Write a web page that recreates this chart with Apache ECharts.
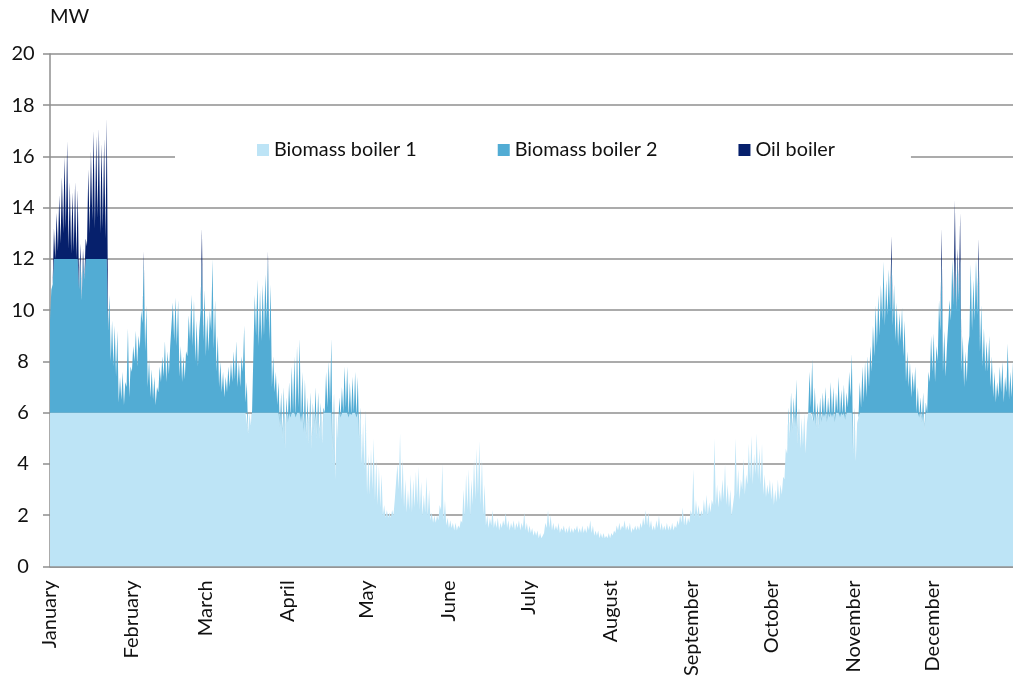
<!DOCTYPE html>
<html lang="en">
<head>
    <meta charset="UTF-8">
    <title>Heat production</title>
    <script type="text/javascript" src="https://cdn.jsdelivr.net/npm/echarts@6/dist/echarts.min.js"></script>
    <style>
        body {
            margin: 0;
            background: #fff;
        }
        #main {
            width: 1013px;
            height: 679px;
        }
    </style>
</head>
<body>
<div id="main"></div>
<script>

    let months = ['January', 'February', 'March', 'April', 'May', 'June',
        'July', 'August', 'September', 'October', 'November', 'December'];
    let monthDays = [31, 28, 31, 30, 31, 30, 31, 31, 30, 31, 30, 31];

    // daily peak of total heat demand, MW (one line per month)
    let demandPeak = [
        10.8,13.2,13.8,14.5,15.2,16.0,16.6,15.0,14.6,15.0, 14.7,12.6,12.4,12.8,15.5,16.2,17.0,16.8,17.1,16.5, 16.7,17.5,10.6,9.6,9.4,9.2,7.4,7.6,7.2,9.3, 7.8,
        8.6,9.2,9.0,10.0,12.3,10.2,8.1,7.7,7.4,7.0, 7.8,8.2,8.8,8.4,8.6,10.3,10.5,10.4,8.6,8.2, 8.4,9.8,10.6,10.4,9.6,9.2,13.2,10.8,
        9.8,10.0,12.0,10.4,9.0,8.0,7.6,7.4,7.8,8.0, 8.4,8.8,8.0,8.2,9.4,7.2,6.0,6.1,10.6,11.2, 10.8,11.0,11.4,12.3,11.0,8.2,7.6,7.2,6.8,7.0, 6.6,
        7.2,7.8,8.2,8.6,8.9,7.6,7.3,6.6,6.8,6.4, 7.0,6.8,6.4,6.2,7.6,8.0,8.9,6.8,6.0,6.6, 7.0,7.8,7.8,7.2,7.4,7.6,7.4,6.2,5.6,6.1,
        4.4,4.6,5.0,4.2,3.9,3.6,2.4,2.2,2.1,2.2, 2.6,4.0,5.2,4.2,3.4,3.0,3.6,3.4,3.7,3.9, 3.3,2.8,3.5,3.0,2.1,2.0,2.0,2.4,4.0,2.6, 1.9,
        1.8,1.7,1.7,1.6,1.8,3.0,3.6,3.8,3.4,4.2, 4.6,4.9,4.2,3.2,2.0,1.9,2.2,1.8,1.9,1.7, 1.8,2.1,1.8,1.7,1.8,1.7,1.8,1.7,2.1,1.7,
        1.6,1.5,1.4,1.4,1.3,1.2,1.7,2.2,2.0,1.7, 1.6,1.7,1.5,1.6,1.5,1.6,1.5,1.5,1.6,1.5, 1.6,1.5,1.6,1.8,1.6,1.4,1.4,1.3,1.3,1.2, 1.3,
        1.3,1.4,1.6,1.7,1.6,1.8,1.6,1.7,1.5,1.6, 1.6,1.7,1.9,2.2,2.1,1.8,1.6,1.8,2.0,1.7, 1.6,1.7,1.6,1.7,1.6,1.8,2.0,2.3,2.0,1.9, 2.2,
        3.8,2.6,2.4,2.2,2.6,2.8,2.5,2.6,5.0,3.2, 3.0,3.4,4.0,3.2,3.0,2.4,5.0,3.8,3.4,4.2, 3.6,4.8,5.1,4.4,5.2,4.6,4.8,3.6,3.2,3.4,
        3.3,3.0,3.4,3.2,3.5,4.6,6.2,6.8,6.6,7.3, 6.2,5.8,6.0,5.6,7.6,8.1,7.0,6.4,6.6,6.8, 7.0,6.6,7.2,7.0,6.8,7.4,6.9,7.1,6.8,7.6, 8.3,
        6.2,5.6,7.2,7.8,8.0,8.2,8.6,9.4,10.2,10.6, 11.0,11.9,11.2,11.6,12.9,11.0,10.3,9.9,10.1,9.6, 8.4,8.0,7.6,7.8,7.0,6.6,6.8,6.4,7.6,9.0,
        9.1,8.6,10.4,13.2,9.2,8.6,10.4,12.0,14.3,12.4, 13.8,9.0,8.4,8.6,11.8,11.2,12.0,12.8,10.2,9.3, 8.8,9.0,8.2,7.6,7.2,7.8,8.0,7.4,8.7,7.6, 8.0
    ];

    // daily low of total heat demand, MW
    let demandLow = [
        9.6,11.0,12.0,12.3,12.6,13.0,13.2,12.4,12.2,12.3, 12.0,10.8,10.4,11.2,12.5,13.0,13.5,13.2,13.6,13.0, 13.2,12.8,9.2,8.0,7.8,7.4,6.4,6.5,6.3,7.0, 6.6,
        7.6,8.0,7.8,8.5,9.5,8.4,7.0,6.6,6.5,6.3, 6.8,7.2,7.4,7.2,7.5,8.6,8.8,8.6,7.4,7.2, 7.3,8.2,8.8,8.6,8.0,7.8,10.0,8.8,
        8.2,8.4,9.2,8.5,7.6,7.0,6.8,6.6,6.8,7.0, 7.2,7.3,7.0,7.0,7.6,6.4,5.2,5.5,8.4,9.0, 8.6,8.8,9.0,9.6,8.8,7.0,6.8,6.3,5.4,5.0, 4.6,
        5.6,5.8,6.0,5.8,6.2,5.6,5.2,5.0,4.8,4.6, 5.2,5.0,5.0,4.8,6.0,6.2,6.4,4.0,3.4,5.0, 5.8,6.0,6.2,5.8,5.9,6.0,5.8,5.0,4.0,3.8,
        2.8,2.8,3.0,2.6,2.4,2.3,2.0,1.9,1.9,1.9, 2.0,2.6,3.0,2.6,2.3,2.1,2.2,2.1,2.3,2.4, 2.2,2.0,2.1,2.0,1.8,1.7,1.7,1.8,2.2,1.8, 1.6,
        1.5,1.5,1.4,1.4,1.5,1.7,2.0,2.2,2.0,2.4, 2.6,2.8,2.4,2.0,1.6,1.5,1.6,1.5,1.5,1.4, 1.5,1.6,1.5,1.4,1.5,1.4,1.5,1.4,1.5,1.4,
        1.3,1.3,1.2,1.2,1.1,1.1,1.3,1.5,1.5,1.4, 1.4,1.4,1.3,1.4,1.3,1.3,1.3,1.3,1.4,1.3, 1.3,1.3,1.3,1.4,1.3,1.2,1.2,1.1,1.1,1.1, 1.1,
        1.1,1.2,1.3,1.4,1.4,1.5,1.4,1.4,1.3,1.4, 1.4,1.4,1.5,1.6,1.6,1.5,1.4,1.4,1.5,1.4, 1.4,1.4,1.4,1.4,1.4,1.5,1.6,1.7,1.6,1.6, 1.7,
        2.0,1.9,2.0,1.9,2.0,2.1,2.0,2.1,2.4,2.4, 2.3,2.5,2.6,2.4,2.3,2.0,2.8,2.8,2.6,3.0, 2.8,3.2,3.4,3.2,3.6,3.4,3.2,2.8,2.7,2.8,
        2.6,2.4,2.5,2.6,2.8,3.4,4.4,5.0,5.2,5.4, 4.8,4.6,4.7,4.4,6.0,6.2,5.6,5.4,5.4,5.6, 5.8,5.6,5.8,5.8,5.6,6.0,5.8,5.9,5.7,6.2, 6.6,
        4.4,4.1,5.8,6.2,6.4,6.6,7.0,7.6,8.2,8.6, 9.0,9.6,9.4,9.8,10.0,9.4,8.8,8.6,8.8,8.2, 7.2,7.0,6.6,6.8,6.0,5.8,5.6,5.3,6.0,7.2,
        7.6,7.2,8.0,9.2,7.6,7.4,8.6,9.6,10.2,10.0, 10.4,7.6,7.0,7.2,9.0,9.2,9.6,9.8,8.4,7.8, 7.6,7.6,7.0,6.6,6.4,6.6,6.8,6.4,6.8,6.5, 6.6
    ];

    let yTicks = [0, 2, 4, 6, 8, 10, 12, 14, 16, 18, 20];

    // boiler capacities (MW)
    let boiler1Cap = 6;
    let boiler2Cap = 6;

    // two points per day: night low, then day peak
    let xData = [];
    let total = [];
    let monthStart = [];
    let day = 0;
    for (let m = 0; m < months.length; m++) {
        for (let d = 0; d < monthDays[m]; d++) {
            if (d === 0) monthStart.push(xData.length);
            xData.push(d === 0 ? months[m] : '');
            total.push(demandLow[day]);
            xData.push('');
            total.push(demandPeak[day]);
            day++;
        }
    }

    // runs of zeros become gaps, so no hairline edges are drawn there
    function gaps(arr) {
        return arr.map((v, i) => {
            let prev = i > 0 ? arr[i - 1] : 0;
            let next = i < arr.length - 1 ? arr[i + 1] : 0;
            return (v === 0 && prev === 0 && next === 0) ? null : v;
        });
    }

    let boiler1 = total.map(v => +Math.min(v, boiler1Cap).toFixed(2));
    let boiler2 = gaps(total.map(v => +Math.min(Math.max(v - boiler1Cap, 0), boiler2Cap).toFixed(2)));
    let oil = gaps(total.map(v => +Math.max(v - boiler1Cap - boiler2Cap, 0).toFixed(2)));

    let font = 'Lato, "Noto Sans", sans-serif';
    let gray = '#8f8f8f';

    function areaSeries(name, color, data) {
        return {
            name: name,
            type: 'line',
            stack: 'total',
            data: data,
            symbol: 'none',
            showSymbol: false,
            connectNulls: false,
            lineStyle: {width: 0},
            itemStyle: {color: color},
            areaStyle: {color: color, opacity: 1},
            emphasis: {disabled: true}
        };
    }

    var myChart = echarts.init(document.getElementById('main'));
    var option = {
        animation: false,
        textStyle: {fontFamily: font},
        grid: {left: 50, right: 0, top: 54, bottom: 111},
        legend: {
            left: 175,
            top: 128,
            padding: [12, 76, 12, 82],
            backgroundColor: '#fff',
            itemWidth: 12,
            itemHeight: 12,
            itemGap: 81,
            icon: 'rect',
            textStyle: {fontFamily: font, fontSize: 19.8, color: '#111'},
            data: ['Biomass boiler 1', 'Biomass boiler 2', 'Oil boiler']
        },
        xAxis: {
            type: 'category',
            data: xData,
            boundaryGap: false,
            axisLine: {lineStyle: {color: gray, width: 1.5}},
            axisTick: {show: false},
            axisLabel: {
                interval: function (i) {
                    return monthStart.indexOf(i) >= 0;
                },
                rotate: 90,
                margin: 14,
                fontFamily: font,
                fontSize: 20,
                color: '#111'
            },
            splitLine: {show: false}
        },
        yAxis: {
            type: 'value',
            min: yTicks[0],
            max: yTicks[yTicks.length - 1],
            interval: 2,
            name: 'MW',
            nameLocation: 'end',
            nameGap: 27,
            nameTextStyle: {fontFamily: font, fontSize: 20, color: '#111', align: 'left'},
            axisLine: {show: true, lineStyle: {color: gray, width: 1.5}},
            axisTick: {show: true, length: 7, lineStyle: {color: gray, width: 1.5}},
            axisLabel: {
                margin: 27,
                align: 'center',
                fontFamily: font,
                fontSize: 20,
                color: '#111'
            },
            splitLine: {lineStyle: {color: gray, width: 1.5}}
        },
        series: [
            areaSeries('Biomass boiler 1', '#bde4f6', boiler1),
            areaSeries('Biomass boiler 2', '#52acd4', boiler2),
            areaSeries('Oil boiler', '#06206c', oil)
        ]
    };
    myChart.setOption(option);

</script>
</body>
</html>
